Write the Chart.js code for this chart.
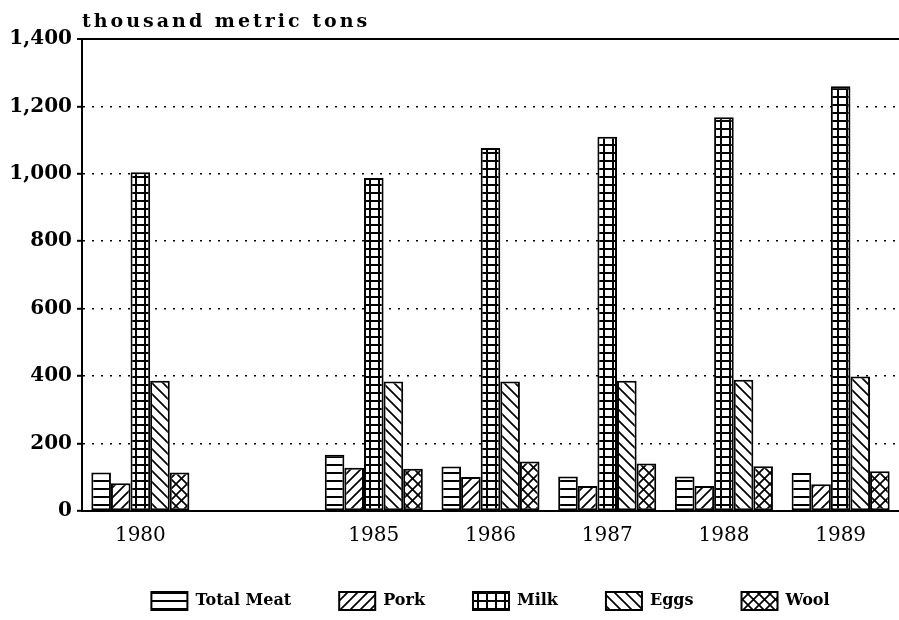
<!DOCTYPE html>
<html>
<head>
<meta charset="utf-8">
<script src="https://cdn.jsdelivr.net/npm/chart.js@4/dist/chart.umd.min.js"></script>
<style>
  html, body { margin: 0; padding: 0; background: #fff; }
  #wrap { width: 899px; height: 620px; }
</style>
</head>
<body>
<div id="wrap"><canvas id="chart" width="899" height="620"></canvas></div>
<script>
// Werte (thousand metric tons)
const years = ['1980', '', '1985', '1986', '1987', '1988', '1989'];
const totalMeat = [114, null, 167, 132, 102, 102, 113];
const pork      = [ 82, null, 128, 101,  74,  74,  79];
const milk      = [1005, null, 988, 1077, 1110, 1168, 1260];
const eggs      = [386, null, 384, 384, 386, 389, 399];
const wool      = [114, null, 125, 147, 141, 133, 118];
const yTicks = [0, 200, 400, 600, 800, 1000, 1200, 1400];
const unitLabel = 'thousand metric tons';

const FONT = '"DejaVu Serif", "Liberation Serif", serif';
const ctxMain = document.getElementById('chart').getContext('2d');

// kleine Muster-Kacheln fuer die Schraffuren
function makePattern(w, h, draw) {
    const c = document.createElement('canvas');
    c.width = w; c.height = h;
    const g = c.getContext('2d');
    g.fillStyle = '#fff';
    g.fillRect(0, 0, w, h);
    g.strokeStyle = '#000';
    g.fillStyle = '#000';
    g.lineWidth = 1.7;
    draw(g, w, h);
    return ctxMain.createPattern(c, 'repeat');
}

function diag(g, s, up) {
    g.beginPath();
    for (let k = -1; k <= 1; k++) {
        if (up) {
            g.moveTo(k * s - 1, s + 1);
            g.lineTo(k * s + s + 1, -1);
        } else {
            g.moveTo(k * s - 1, -1);
            g.lineTo(k * s + s + 1, s + 1);
        }
    }
    g.stroke();
}

const patMeat = makePattern(8, 8, (g, w, h) => { g.fillRect(0, 0, w, 2); });
const patPork = makePattern(10, 10, (g) => diag(g, 10, true));
const patMilk = makePattern(9, 8, (g, w, h) => { g.fillRect(0, 0, w, 2); g.fillRect(0, 0, 2, h); });
const patEggs = makePattern(11, 11, (g) => diag(g, 11, false));
const patWool = makePattern(11, 11, (g) => { diag(g, 11, true); diag(g, 11, false); });

function ds(label, data, pattern) {
    return {
        label: label,
        data: data,
        backgroundColor: pattern,
        borderColor: '#000',
        borderWidth: 2,
        borderSkipped: false
    };
}

// Achsentitel oben links
const unitTitle = {
    id: 'unitTitle',
    afterDraw(chart) {
        const {ctx, chartArea} = chart;
        ctx.save();
        ctx.font = 'bold 19px ' + FONT;
        ctx.letterSpacing = '3px';
        ctx.fillStyle = '#000';
        ctx.textAlign = 'left';
        ctx.textBaseline = 'alphabetic';
        ctx.fillText(unitLabel, chartArea.left, 27);
        ctx.restore();
    }
};

const chart = new Chart(ctxMain, {
    type: 'bar',
    data: {
        labels: years,
        datasets: [
            ds('Total Meat', totalMeat, patMeat),
            ds('Pork', pork, patPork),
            ds('Milk', milk, patMilk),
            ds('Eggs', eggs, patEggs),
            ds('Wool', wool, patWool)
        ]
    },
    options: {
        responsive: false,
        animation: false,
        layout: { padding: { top: 39, right: 0, bottom: 0, left: 0 } },
        datasets: {
            bar: { categoryPercentage: 0.84, barPercentage: 1.0 }
        },
        plugins: {
            title: { display: false },
            tooltip: { enabled: false },
            legend: {
                position: 'bottom',
                fullSize: false,
                labels: {
                    color: '#000',
                    boxWidth: 36,
                    boxHeight: 18,
                    padding: 48,
                    font: { family: FONT, size: 16, weight: 'bold' }
                }
            }
        },
        scales: {
            x: {
                grid: { display: false },
                border: { display: true, color: '#000', width: 2 },
                ticks: {
                    color: '#000',
                    padding: 5,
                    maxRotation: 0,
                    font: { family: FONT, size: 20 }
                },
                afterFit(scale) { scale.height = 33; }
            },
            y: {
                min: 0,
                max: 1400,
                afterBuildTicks(scale) {
                    scale.ticks = yTicks.map(v => ({ value: v }));
                },
                grid: {
                    color: '#000',
                    lineWidth: c => (c.tick && c.tick.value === 1400) ? 2 : 1.6,
                    drawTicks: true,
                    tickLength: 5,
                    tickColor: '#000',
                    tickWidth: 2
                },
                border: {
                    display: true,
                    color: '#000',
                    width: 2,
                    dash: c => (c.tick && c.tick.value > 0 && c.tick.value < 1400) ? [2, 7] : []
                },
                ticks: {
                    color: '#000',
                    padding: 5,
                    font: { family: FONT, size: 20, weight: 'bold' },
                    callback: v => v.toLocaleString('en-US')
                },
                afterFit(scale) { scale.width = 82; }
            }
        }
    },
    plugins: [unitTitle]
});
</script>
</body>
</html>
